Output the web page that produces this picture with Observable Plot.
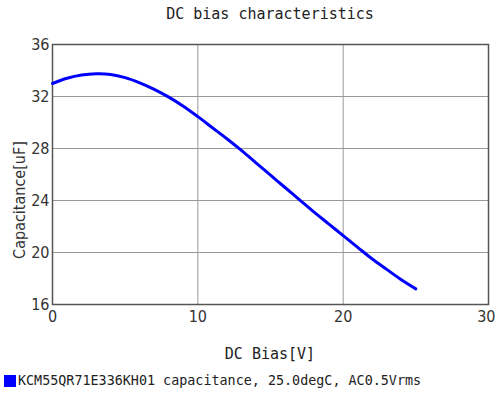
<!DOCTYPE html>
<html><head><meta charset="utf-8">
<script src="https://cdn.jsdelivr.net/npm/d3@7"></script>
<script src="https://cdn.jsdelivr.net/npm/@observablehq/plot@0.6"></script>
<style>
body{margin:0;background:#fff;}
#wrap{position:relative;width:496px;height:394px;overflow:hidden;background:#fff;}
#title{position:absolute;z-index:2;left:0;top:5px;width:540px;text-align:center;font:15px "DejaVu Sans Mono",monospace;color:#222;}
#legend{position:absolute;z-index:2;left:4px;top:373px;font:13.4px "DejaVu Sans Mono",monospace;color:#222;display:flex;align-items:center;white-space:nowrap;}
#legend span.sw{display:inline-block;width:12px;height:12px;background:#0000ff;margin-right:2px;}
svg{position:absolute;left:0;top:0;z-index:1;background:transparent !important;}
</style></head>
<body><div id="wrap"><div id="title"></div><div id="legend"></div></div>
<script>
const chartTitle = "DC bias characteristics";
const xLabel = "DC Bias[V]";
const yLabel = "Capacitance[uF]";
const seriesName = "KCM55QR71E336KH01 capacitance, 25.0degC, AC0.5Vrms";
const xTicks = [0, 10, 20, 30];
const yTicks = [16, 20, 24, 28, 32, 36];
const biasV = [0,1,2,3,4,5,6,7,8,9,10,11,12,13,14,15,16,17,18,19,20,21,22,23,24,25];
const capUF = [33.0,33.4,33.65,33.75,33.7,33.45,33.05,32.55,31.95,31.25,30.45,29.6,28.75,27.85,26.9,25.95,25.0,24.05,23.1,22.2,21.3,20.4,19.5,18.7,17.9,17.2];

const data = biasV.map((v, i) => ({v, c: capUF[i]}));
const tickFont = '"DejaVu Sans Condensed","Liberation Sans Narrow",sans-serif';
const innerXTicks = xTicks.slice(0, -1);
const lastXTick = xTicks.slice(-1);

const chart = Plot.plot({
  width: 496, height: 394,
  marginLeft: 52, marginRight: 8, marginTop: 44, marginBottom: 90,
  style: {fontFamily: tickFont, fontSize: "16px", color: "#333", background: "transparent"},
  x: {domain: [0, 30]},
  y: {domain: [16, 36]},
  marks: [
    Plot.gridX(xTicks, {stroke: "#999", strokeOpacity: 1, strokeWidth: 1}),
    Plot.gridY(yTicks, {stroke: "#999", strokeOpacity: 1, strokeWidth: 1}),
    Plot.frame({stroke: "#555", strokeWidth: 1.5}),
    Plot.axisX(innerXTicks, {tickSize: 0, tickPadding: 6, label: null, fontSize: 16}),
    Plot.axisX(lastXTick, {tickSize: 0, tickPadding: 6, label: null, fontSize: 16, textAnchor: "end", dx: 7}),
    Plot.axisY(yTicks, {tickSize: 0, tickPadding: 3, label: null, fontSize: 16}),
    Plot.line(data, {x: "v", y: "c", stroke: "#0000ff", strokeWidth: 3, curve: "catmull-rom"})
  ]
});
document.getElementById("wrap").appendChild(chart);

const svg = d3.select(chart);
svg.append("text").text(xLabel)
  .attr("x", 270).attr("y", 359).attr("text-anchor", "middle")
  .attr("font-family", '"DejaVu Sans Mono",monospace').attr("font-size", 15).attr("fill", "#222");
svg.append("text").text(yLabel)
  .attr("transform", "translate(25,200) rotate(-90)").attr("text-anchor", "middle")
  .attr("font-family", tickFont).attr("font-size", 16).attr("fill", "#333");

document.getElementById("title").textContent = chartTitle;
const lg = document.getElementById("legend");
lg.innerHTML = '<span class="sw"></span>';
lg.appendChild(document.createTextNode(seriesName));
</script></body></html>
